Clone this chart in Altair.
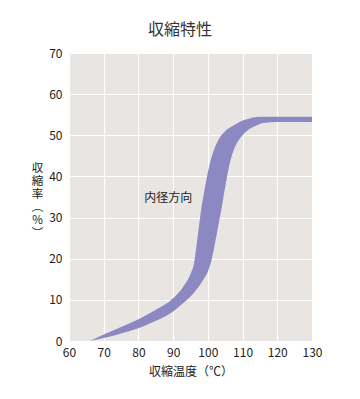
import altair as alt
import pandas as pd

# Temperatures (°C) and band edges (%)
temps = [66, 70, 75, 80, 85, 90, 93, 95, 96, 97, 98, 99, 100, 101, 102, 103, 104,
         105, 106, 107, 108, 110, 112, 114, 116, 120, 130]
upper = [0, 1.6, 3.4, 5.3, 7.6, 10.4, 13.3, 16.3, 18.8, 25.0, 31.5, 36.5, 41.0, 44.5,
         47.0, 48.8, 50.1, 51.0, 51.7, 52.2, 52.7, 53.6, 54.1, 54.45, 54.5, 54.5, 54.5]
lower = [0, 0.7, 1.8, 3.1, 4.9, 7.2, 9.3, 10.8, 11.7, 12.8, 14.0, 15.3, 16.9, 19.5,
         23.5, 28.0, 32.5, 37.5, 42.0, 45.3, 47.5, 50.0, 51.5, 52.4, 53.0, 53.2, 53.2]

x_ticks = [60, 70, 80, 90, 100, 110, 120, 130]
y_ticks = [0, 10, 20, 30, 40, 50, 60, 70]

chart_title = "収縮特性"
x_title = "収縮温度（℃）"
y_title = ["収", "縮", "率", "︵", "%", "︶"]
band_label = ["内径方向"]
band_label_x = [88.6]
band_label_y = [34.8]

FONT = "Noto Sans CJK JP"
W, H = 243, 288

df = pd.DataFrame({"temp": temps, "upper": upper, "lower": lower})
lab = pd.DataFrame({"t": band_label, "x": band_label_x, "y": band_label_y})

xs = alt.Scale(domain=[60, 130], nice=False, zero=False)
ys = alt.Scale(domain=[0, 70], nice=False)

x_axis = alt.Axis(values=x_ticks, title=x_title, titleFontSize=12,
                  titleFontWeight="normal", titlePadding=8, labelPadding=6,
                  labelOverlap=False, labelFlush=False)
y_axis = alt.Axis(values=y_ticks, title=y_title, titleAngle=0,
                  titleX=-32, titleY=115, titleAlign="center",
                  titleBaseline="middle", titleLineHeight=13,
                  titleFontSize=11.5, titleFontWeight="normal", labelPadding=7,
                  labelOverlap=False)

band = alt.Chart(df).mark_area(color="#8c89c2", interpolate="monotone", opacity=1).encode(
    x=alt.X("temp:Q", scale=xs, axis=x_axis),
    y=alt.Y("upper:Q", scale=ys, axis=y_axis),
    y2="lower:Q",
)

label = alt.Chart(lab).mark_text(font=FONT, fontSize=12, color="#222").encode(
    x=alt.X("x:Q", scale=xs, axis=x_axis),
    y=alt.Y("y:Q", scale=ys, axis=y_axis),
    text="t:N",
)

title = alt.Chart(pd.DataFrame({"t": [chart_title]})).mark_text(
    font=FONT, fontSize=16, color="#333", baseline="middle"
).encode(x=alt.value(111), y=alt.value(-23), text="t:N")

chart = alt.layer(band, label, title).properties(
    width=W, height=H,
    autosize=alt.AutoSizeParams(type="none"),
    padding={"left": 61, "top": 45, "right": 40, "bottom": 50},
).configure_view(fill="#e8e5e2", strokeWidth=0).configure_axis(
    grid=True, gridColor="#ffffff", gridWidth=1.2, domain=False, ticks=False,
    labelFont=FONT, titleFont=FONT, labelFontSize=12, labelColor="#222",
    titleColor="#222", labelOverlap=False,
)

chart.save("out.html", embed_options={"renderer": "svg", "actions": False})
